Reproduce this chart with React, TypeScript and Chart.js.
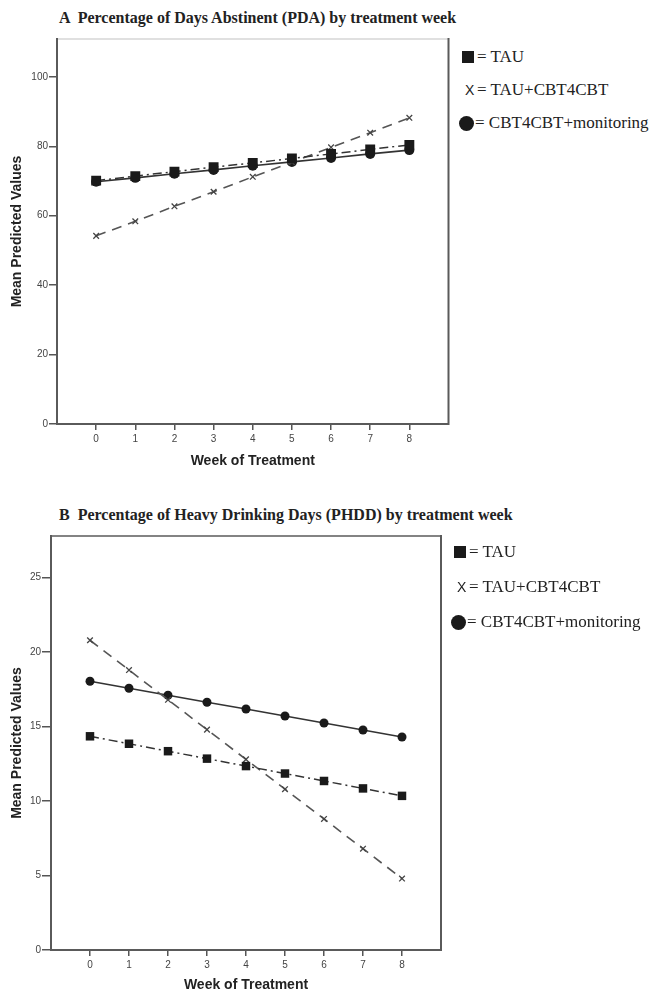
import React, { useEffect, useRef } from 'react';
import { Chart, registerables } from 'chart.js';
Chart.register(...registerables);

const weeks = [0, 1, 2, 3, 4, 5, 6, 7, 8];
const pdaTAU = [70.1, 71.4, 72.7, 74.0, 75.2, 76.5, 77.8, 79.1, 80.4];
const pdaTAUCBT = [54.2, 58.4, 62.7, 66.9, 71.2, 75.4, 79.7, 83.9, 88.2];
const pdaMonitoring = [69.8, 70.9, 72.1, 73.2, 74.4, 75.5, 76.6, 77.8, 78.9];
const phddTAU = [14.35, 13.85, 13.35, 12.85, 12.35, 11.85, 11.35, 10.85, 10.35];
const phddTAUCBT = [20.8, 18.8, 16.8, 14.8, 12.8, 10.8, 8.8, 6.8, 4.8];
const phddMonitoring = [18.05, 17.58, 17.11, 16.64, 16.18, 15.71, 15.24, 14.77, 14.3];
const pdaYTicks = [0, 20, 40, 60, 80, 100];
const phddYTicks = [0, 5, 10, 15, 20, 25];

const titleA = 'A  Percentage of Days Abstinent (PDA) by treatment week';
const titleB = 'B  Percentage of Heavy Drinking Days (PHDD) by treatment week';
const legendTAU = '= TAU';
const legendTAUCBT = '= TAU+CBT4CBT';
const legendMonitoring = '= CBT4CBT+monitoring';
const xTitle = 'Week of Treatment';
const yTitle = 'Mean Predicted Values';

const SANS = '"Liberation Sans", Arial, sans-serif';
const SERIF = '"Liberation Serif", "Times New Roman", serif';

type PanelProps = {
  top: number;
  width: number;
  height: number;
  padTop: number;
  padRight: number;
  yAxisW: number;
  xAxisH: number;
  yMax: number;
  yTicks: number[];
  tau: number[];
  tauCbt: number[];
  monitoring: number[];
  sqR: number;
  circR: number;
  yTickLen: number;
  xTitlePadBottom: number;
  topColor: string;
};

function Panel(p: PanelProps) {
  const ref = useRef<HTMLCanvasElement | null>(null);
  useEffect(() => {
    if (!ref.current) return;
    const pts = (arr: number[]) => weeks.map((w, i) => ({ x: w, y: arr[i] }));
    const frame = {
      id: 'frame',
      beforeDatasetsDraw(chart: any) {
        const { ctx, chartArea: a } = chart;
        ctx.save();
        ctx.lineCap = 'square';
        ctx.strokeStyle = p.topColor;
        ctx.lineWidth = 1.5;
        ctx.beginPath();
        ctx.moveTo(a.left, a.top);
        ctx.lineTo(a.right, a.top);
        ctx.stroke();
        ctx.strokeStyle = '#5a5a5a';
        ctx.lineWidth = 2;
        ctx.beginPath();
        ctx.moveTo(a.right, a.top);
        ctx.lineTo(a.right, a.bottom);
        ctx.lineTo(a.left, a.bottom);
        ctx.lineTo(a.left, a.top);
        ctx.stroke();
        ctx.restore();
      },
    };
    const chart = new Chart(ref.current, {
      type: 'line',
      data: {
        datasets: [
          {
            label: 'TAU',
            data: pts(p.tau),
            borderColor: '#333',
            borderWidth: 1.5,
            borderDash: [9, 4, 2, 4],
            pointStyle: 'rect',
            pointRadius: p.sqR,
            pointBackgroundColor: '#1a1a1a',
            pointBorderColor: '#1a1a1a',
            pointBorderWidth: 0,
          },
          {
            label: 'TAU+CBT4CBT',
            data: pts(p.tauCbt),
            borderColor: '#555',
            borderWidth: 1.6,
            borderDash: [10, 7],
            pointStyle: 'crossRot',
            pointRadius: 4,
            pointBorderColor: '#444',
            pointBorderWidth: 1.3,
          },
          {
            label: 'CBT4CBT+monitoring',
            data: pts(p.monitoring),
            borderColor: '#333',
            borderWidth: 1.6,
            pointStyle: 'circle',
            pointRadius: p.circR,
            pointBackgroundColor: '#1a1a1a',
            pointBorderColor: '#1a1a1a',
            pointBorderWidth: 0,
          },
        ],
      } as any,
      options: {
        animation: false,
        responsive: false,
        devicePixelRatio: 1,
        layout: { padding: { top: p.padTop, right: p.padRight, left: 0, bottom: 0 }, autoPadding: false } as any,
        plugins: { legend: { display: false }, tooltip: { enabled: false }, title: { display: false } },
        scales: {
          x: {
            type: 'linear',
            min: -1,
            max: 9,
            afterBuildTicks: (s: any) => {
              s.ticks = weeks.map((v) => ({ value: v }));
            },
            afterFit: (s: any) => {
              s.height = p.xAxisH;
            },
            grid: { drawOnChartArea: false, drawTicks: true, tickLength: 6, color: '#555', lineWidth: 1.5 },
            border: { display: false },
            ticks: {
              color: '#444',
              font: { family: SANS, size: 10 },
              padding: 3,
              maxRotation: 0,
              autoSkip: false,
            },
            title: {
              display: true,
              text: xTitle,
              color: '#222',
              font: { family: SANS, size: 14, weight: 'bold', lineHeight: 1 },
              padding: { top: 0, bottom: p.xTitlePadBottom },
            },
          },
          y: {
            type: 'linear',
            min: 0,
            max: p.yMax,
            afterBuildTicks: (s: any) => {
              s.ticks = p.yTicks.map((v) => ({ value: v }));
            },
            afterFit: (s: any) => {
              s.width = p.yAxisW;
            },
            grid: { drawOnChartArea: false, drawTicks: true, tickLength: p.yTickLen, color: '#555', lineWidth: 1.5 },
            border: { display: false },
            ticks: {
              color: '#444',
              font: { family: SANS, size: 10 },
              padding: 1,
              autoSkip: false,
            },
            title: {
              display: true,
              text: yTitle,
              color: '#222',
              font: { family: SANS, size: 14, weight: 'bold', lineHeight: 1 },
              padding: { top: 10.5, bottom: 0 },
            },
          },
        },
      } as any,
      plugins: [frame],
    });
    return () => chart.destroy();
  }, []);
  return (
    <canvas
      ref={ref}
      width={p.width}
      height={p.height}
      style={{ position: 'absolute', left: 0, top: p.top, width: p.width, height: p.height }}
    />
  );
}

const txt = (left: number, top: number, text: string, style: any = {}) => (
  <div
    style={{
      position: 'absolute',
      left,
      top,
      whiteSpace: 'pre',
      fontFamily: SERIF,
      fontSize: 17,
      lineHeight: '20px',
      color: '#222',
      ...style,
    }}
  >
    {text}
  </div>
);

function Legend({ x, y, gap }: { x: number; y: number; gap: number }) {
  return (
    <>
      <div style={{ position: 'absolute', left: x + 3, top: y - 6, width: 12, height: 12, background: '#1a1a1a' }} />
      {txt(x + 18, y - 10, legendTAU)}
      {txt(x + 6, y + gap - 10, 'X', { fontFamily: SANS, fontSize: 14, lineHeight: '20px' })}
      {txt(x + 18, y + gap - 10, legendTAUCBT)}
      <div
        style={{
          position: 'absolute',
          left: x,
          top: y + 2 * gap - 7.5,
          width: 15,
          height: 15,
          borderRadius: '50%',
          background: '#1a1a1a',
        }}
      />
      {txt(x + 16, y + 2 * gap - 10, legendMonitoring)}
    </>
  );
}

export default function App() {
  return (
    <div style={{ position: 'absolute', left: 0, top: 0, width: 655, height: 992, background: '#fff', overflow: 'hidden' }}>
      {txt(59, 9, titleA, { fontSize: 16, fontWeight: 'bold', lineHeight: '18px' })}
      <Panel
        top={30}
        width={455}
        height={445}
        padTop={9}
        padRight={6.5}
        yAxisW={57}
        xAxisH={51}
        yMax={110.9}
        yTicks={pdaYTicks}
        tau={pdaTAU}
        tauCbt={pdaTAUCBT}
        monitoring={pdaMonitoring}
        sqR={7}
        circR={5}
        yTickLen={8}
        xTitlePadBottom={7}
        topColor="#d6d6d6"
      />
      <Legend x={459} y={57} gap={33} />
      {txt(59, 506, titleB, { fontSize: 16, fontWeight: 'bold', lineHeight: '18px' })}
      <Panel
        top={525}
        width={455}
        height={467}
        padTop={11}
        padRight={14}
        yAxisW={51}
        xAxisH={42}
        yMax={27.8}
        yTicks={phddYTicks}
        tau={phddTAU}
        tauCbt={phddTAUCBT}
        monitoring={phddMonitoring}
        sqR={6}
        circR={4.5}
        yTickLen={9}
        xTitlePadBottom={0}
        topColor="#5a5a5a"
      />
      <Legend x={451} y={552} gap={35} />
    </div>
  );
}
